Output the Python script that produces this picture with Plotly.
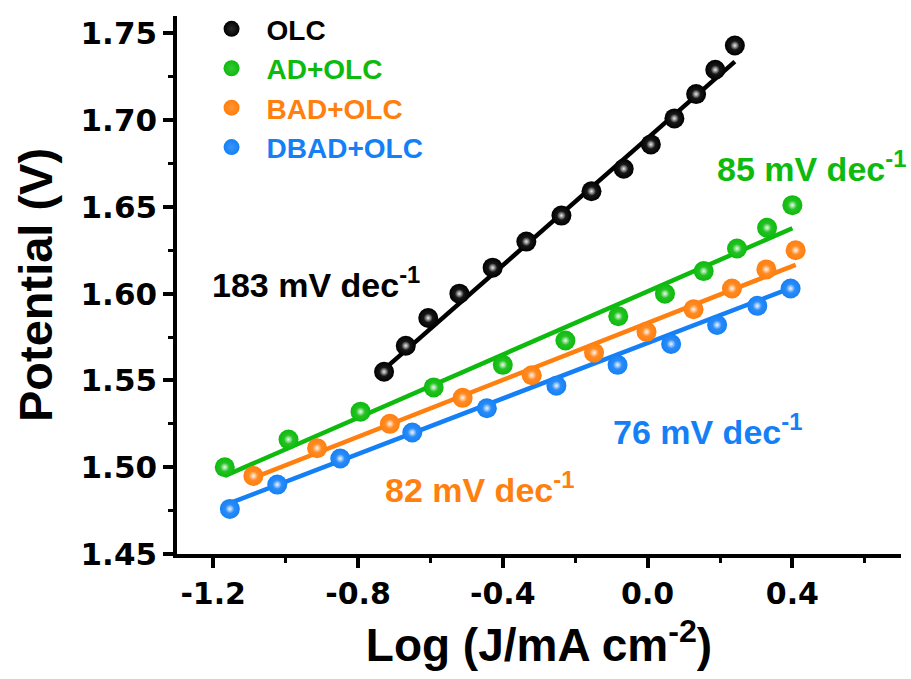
import plotly.graph_objects as go

# ---- data ----
olc_x = [-0.728, -0.668, -0.606, -0.520, -0.428, -0.335, -0.238, -0.155, -0.066, 0.009, 0.074, 0.134, 0.187, 0.241]
olc_y = [1.555, 1.570, 1.586, 1.600, 1.615, 1.630, 1.645, 1.659, 1.672, 1.686, 1.701, 1.715, 1.729, 1.743]

ad_x = [-1.168, -0.992, -0.793, -0.591, -0.400, -0.227, -0.081, 0.048, 0.155, 0.247, 0.330, 0.400]
ad_y = [1.500, 1.516, 1.532, 1.546, 1.559, 1.573, 1.587, 1.600, 1.613, 1.626, 1.638, 1.651]

bad_x = [-1.089, -0.913, -0.712, -0.511, -0.320, -0.148, -0.003, 0.127, 0.233, 0.328, 0.409]
bad_y = [1.495, 1.511, 1.525, 1.540, 1.553, 1.566, 1.578, 1.591, 1.603, 1.614, 1.625]

dbad_x = [-1.154, -1.023, -0.849, -0.650, -0.444, -0.252, -0.083, 0.065, 0.192, 0.303, 0.395]
dbad_y = [1.476, 1.490, 1.505, 1.520, 1.534, 1.547, 1.559, 1.571, 1.582, 1.593, 1.603]

series_names = ["OLC", "AD+OLC", "BAD+OLC", "DBAD+OLC"]
series_colors = ["#000000", "#0dba0d", "#ff7f0f", "#1580f6"]
shade_colors = ["#2a2a2a", "#35c835", "#ff9433", "#3a95f8"]
fit_slopes = [0.183, 0.091, 0.082, 0.080]        # V/dec
fit_intercepts = [1.6896, 1.6013, 1.5831, 1.5716]
tafel_labels = ["183 mV dec<sup>-1</sup>", "85 mV dec<sup>-1</sup>",
                "82 mV dec<sup>-1</sup>", "76 mV dec<sup>-1</sup>"]
label_pos_x = [-1.209, 0.186, -0.732, -0.100]
label_pos_y = [1.6062, 1.6730, 1.4882, 1.5216]

x_tickvals = [-1.2, -0.8, -0.4, 0.0, 0.4]
x_ticktext = ["-1.2", "-0.8", "-0.4", "0.0", "0.4"]
y_tickvals = [1.45, 1.50, 1.55, 1.60, 1.65, 1.70, 1.75]
y_ticktext = ["1.45", "1.50", "1.55", "1.60", "1.65", "1.70", "1.75"]

xs = [olc_x, ad_x, bad_x, dbad_x]
ys = [olc_y, ad_y, bad_y, dbad_y]

fig = go.Figure()

# fit lines
for x, sl, ic, col in zip(xs, fit_slopes, fit_intercepts, series_colors):
    x0, x1 = min(x), max(x)
    fig.add_trace(go.Scatter(x=[x0, x1], y=[ic + sl * x0, ic + sl * x1], mode="lines",
                             line=dict(color=col, width=4.5), showlegend=False, hoverinfo="skip"))

# data points (spheres)
for x, y, name, col, scol in zip(xs, ys, series_names, series_colors, shade_colors):
    fig.add_trace(go.Scatter(x=x, y=y, mode="markers",
                             name=f"<span style='color:{col}'>{name}</span>",
                             marker=dict(size=20, color=col, line=dict(width=0),
                                         gradient=dict(type="radial", color=scol))))
for x, y, col in zip(xs, ys, series_colors):
    fig.add_trace(go.Scatter(x=x, y=y, mode="markers", showlegend=False, hoverinfo="skip",
                             marker=dict(size=9, color="rgba(255,255,255,0)", line=dict(width=0),
                                         gradient=dict(type="radial", color="rgba(255,255,255,0.9)"))))

for txt, col, lx, ly in zip(tafel_labels, series_colors, label_pos_x, label_pos_y):
    fig.add_annotation(x=lx, y=ly, xref="x", yref="y", text=txt, showarrow=False,
                       xanchor="left", yanchor="middle",
                       font=dict(family="Liberation Sans, Arial", size=34, color=col, weight="bold"))

fig.update_layout(
    width=911, height=679,
    margin=dict(l=177, r=10, t=16, b=125, autoexpand=False),
    plot_bgcolor="white", paper_bgcolor="white",
    font=dict(family="Liberation Sans, Arial", color="black"),
    legend=dict(x=0.027, y=1.022, xanchor="left", yanchor="top",
                bgcolor="rgba(0,0,0,0)", borderwidth=0, itemwidth=60,
                font=dict(family="Liberation Sans, Arial", size=28, weight="bold")),
    showlegend=True,
)
fig.update_xaxes(range=[-1.3, 0.7], tickmode="array", tickvals=x_tickvals, ticktext=x_ticktext,
                 showline=True, linecolor="black", linewidth=3.5, mirror=False,
                 ticks="outside", ticklen=10, tickwidth=3.5, tickcolor="black",
                 minor=dict(dtick=0.2, tick0=-1.2, ticks="outside", ticklen=5, tickwidth=3, tickcolor="black"),
                 showgrid=False, zeroline=False,
                 tickfont=dict(family="DejaVu Sans", size=30, weight="bold"),
                 title=dict(text="Log (J/mA cm<sup>-2</sup>)", standoff=20,
                            font=dict(family="Liberation Sans, Arial", size=46, weight="bold")))
fig.update_yaxes(range=[1.45, 1.76], tickmode="array", tickvals=y_tickvals, ticktext=y_ticktext,
                 showline=True, linecolor="black", linewidth=3.5, mirror=False,
                 ticks="outside", ticklen=10, tickwidth=3.5, tickcolor="black",
                 minor=dict(dtick=0.025, tick0=1.45, ticks="outside", ticklen=5, tickwidth=3, tickcolor="black"),
                 showgrid=False, zeroline=False,
                 tickfont=dict(family="DejaVu Sans", size=31, weight="bold"),
                 title=dict(text="Potential (V)", standoff=14,
                            font=dict(family="Liberation Sans, Arial", size=47, weight="bold")))

fig.write_html("out.html")
